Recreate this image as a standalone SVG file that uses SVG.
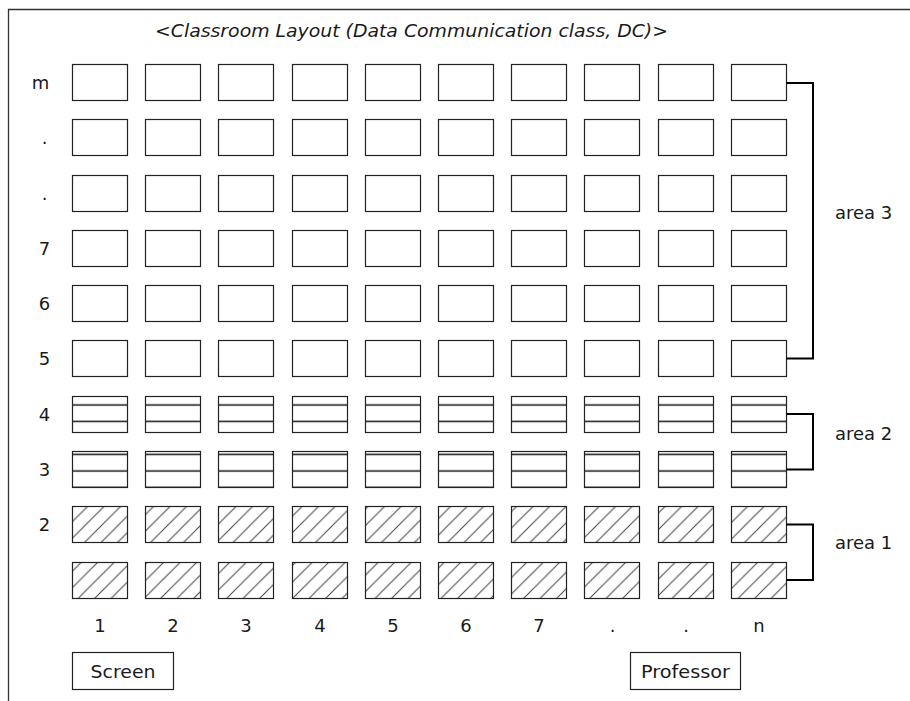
<svg xmlns="http://www.w3.org/2000/svg" width="910" height="701" viewBox="0 0 910 701">
<style>
text{font-family:"DejaVu Sans","Liberation Sans",sans-serif;font-size:18px;fill:#1a1a1a}
.t{font-size:17px;font-style:italic}
.m{text-anchor:middle}
.d{stroke:#222;stroke-width:1.2}
.a3{fill:#fff}
.a2{fill:url(#hz)}
.a1{fill:url(#dg)}
.br{fill:none;stroke:#000;stroke-width:2}
.bx{fill:#fff;stroke:#222;stroke-width:1.2}
</style>
<defs>
<pattern id="hz" patternUnits="userSpaceOnUse" width="20" height="16.5">
<rect width="20" height="16.5" fill="#fff"/>
<line x1="0" y1="9" x2="20" y2="9" stroke="#222" stroke-width="1.6"/>
</pattern>
<pattern id="dg" patternUnits="userSpaceOnUse" width="16.5" height="16.5">
<rect width="16.5" height="16.5" fill="#fff"/>
<path d="M0,16.5 L16.5,0 M-2,2 L2,-2 M14.5,18.5 L18.5,14.5" stroke="#444" stroke-width="1"/>
</pattern>
<symbol id="desk3" overflow="visible"><rect x="0" y="0" width="55" height="36" class="d a3"/></symbol>
</defs>
<rect width="910" height="701" fill="#fff"/>
<path d="M8.5,701 V9.5 H910" fill="none" stroke="#333" stroke-width="1.3"/>
<text class="t" x="155" y="37" textLength="513" lengthAdjust="spacingAndGlyphs">&lt;Classroom Layout (Data Communication class, DC)&gt;</text>

<g id="row-labels">
<text class="m" x="40.5" y="88.5">m</text>
<text class="m" x="44.5" y="143.5">.</text>
<text class="m" x="44.5" y="199.5">.</text>
<text class="m" x="44.5" y="254.5">7</text>
<text class="m" x="44.5" y="309.5">6</text>
<text class="m" x="44.5" y="364.5">5</text>
<text class="m" x="44.5" y="420.5">4</text>
<text class="m" x="44.5" y="475.5">3</text>
<text class="m" x="44.5" y="530.5">2</text>
</g>

<g id="area3">
<g id="row-m">
<rect x="72.5" y="64.5" width="55" height="36" class="d a3"/><rect x="145.5" y="64.5" width="55" height="36" class="d a3"/><rect x="218.5" y="64.5" width="55" height="36" class="d a3"/><rect x="292.5" y="64.5" width="55" height="36" class="d a3"/><rect x="365.5" y="64.5" width="55" height="36" class="d a3"/><rect x="438.5" y="64.5" width="55" height="36" class="d a3"/><rect x="511.5" y="64.5" width="55" height="36" class="d a3"/><rect x="584.5" y="64.5" width="55" height="36" class="d a3"/><rect x="658.5" y="64.5" width="55" height="36" class="d a3"/><rect x="731.5" y="64.5" width="55" height="36" class="d a3"/>
</g>
<g id="row-dot1">
<rect x="72.5" y="119.5" width="55" height="36" class="d a3"/><rect x="145.5" y="119.5" width="55" height="36" class="d a3"/><rect x="218.5" y="119.5" width="55" height="36" class="d a3"/><rect x="292.5" y="119.5" width="55" height="36" class="d a3"/><rect x="365.5" y="119.5" width="55" height="36" class="d a3"/><rect x="438.5" y="119.5" width="55" height="36" class="d a3"/><rect x="511.5" y="119.5" width="55" height="36" class="d a3"/><rect x="584.5" y="119.5" width="55" height="36" class="d a3"/><rect x="658.5" y="119.5" width="55" height="36" class="d a3"/><rect x="731.5" y="119.5" width="55" height="36" class="d a3"/>
</g>
<g id="row-dot2">
<rect x="72.5" y="175.5" width="55" height="36" class="d a3"/><rect x="145.5" y="175.5" width="55" height="36" class="d a3"/><rect x="218.5" y="175.5" width="55" height="36" class="d a3"/><rect x="292.5" y="175.5" width="55" height="36" class="d a3"/><rect x="365.5" y="175.5" width="55" height="36" class="d a3"/><rect x="438.5" y="175.5" width="55" height="36" class="d a3"/><rect x="511.5" y="175.5" width="55" height="36" class="d a3"/><rect x="584.5" y="175.5" width="55" height="36" class="d a3"/><rect x="658.5" y="175.5" width="55" height="36" class="d a3"/><rect x="731.5" y="175.5" width="55" height="36" class="d a3"/>
</g>
<g id="row-7">
<rect x="72.5" y="230.5" width="55" height="36" class="d a3"/><rect x="145.5" y="230.5" width="55" height="36" class="d a3"/><rect x="218.5" y="230.5" width="55" height="36" class="d a3"/><rect x="292.5" y="230.5" width="55" height="36" class="d a3"/><rect x="365.5" y="230.5" width="55" height="36" class="d a3"/><rect x="438.5" y="230.5" width="55" height="36" class="d a3"/><rect x="511.5" y="230.5" width="55" height="36" class="d a3"/><rect x="584.5" y="230.5" width="55" height="36" class="d a3"/><rect x="658.5" y="230.5" width="55" height="36" class="d a3"/><rect x="731.5" y="230.5" width="55" height="36" class="d a3"/>
</g>
<g id="row-6">
<rect x="72.5" y="285.5" width="55" height="36" class="d a3"/><rect x="145.5" y="285.5" width="55" height="36" class="d a3"/><rect x="218.5" y="285.5" width="55" height="36" class="d a3"/><rect x="292.5" y="285.5" width="55" height="36" class="d a3"/><rect x="365.5" y="285.5" width="55" height="36" class="d a3"/><rect x="438.5" y="285.5" width="55" height="36" class="d a3"/><rect x="511.5" y="285.5" width="55" height="36" class="d a3"/><rect x="584.5" y="285.5" width="55" height="36" class="d a3"/><rect x="658.5" y="285.5" width="55" height="36" class="d a3"/><rect x="731.5" y="285.5" width="55" height="36" class="d a3"/>
</g>
<g id="row-5">
<rect x="72.5" y="340.5" width="55" height="36" class="d a3"/><rect x="145.5" y="340.5" width="55" height="36" class="d a3"/><rect x="218.5" y="340.5" width="55" height="36" class="d a3"/><rect x="292.5" y="340.5" width="55" height="36" class="d a3"/><rect x="365.5" y="340.5" width="55" height="36" class="d a3"/><rect x="438.5" y="340.5" width="55" height="36" class="d a3"/><rect x="511.5" y="340.5" width="55" height="36" class="d a3"/><rect x="584.5" y="340.5" width="55" height="36" class="d a3"/><rect x="658.5" y="340.5" width="55" height="36" class="d a3"/><rect x="731.5" y="340.5" width="55" height="36" class="d a3"/>
</g>
</g>

<g id="area2">
<g id="row-4">
<rect x="72.5" y="396.5" width="55" height="36" class="d a2"/><rect x="145.5" y="396.5" width="55" height="36" class="d a2"/><rect x="218.5" y="396.5" width="55" height="36" class="d a2"/><rect x="292.5" y="396.5" width="55" height="36" class="d a2"/><rect x="365.5" y="396.5" width="55" height="36" class="d a2"/><rect x="438.5" y="396.5" width="55" height="36" class="d a2"/><rect x="511.5" y="396.5" width="55" height="36" class="d a2"/><rect x="584.5" y="396.5" width="55" height="36" class="d a2"/><rect x="658.5" y="396.5" width="55" height="36" class="d a2"/><rect x="731.5" y="396.5" width="55" height="36" class="d a2"/>
</g>
<g id="row-3">
<rect x="72.5" y="451.5" width="55" height="36" class="d a2"/><rect x="145.5" y="451.5" width="55" height="36" class="d a2"/><rect x="218.5" y="451.5" width="55" height="36" class="d a2"/><rect x="292.5" y="451.5" width="55" height="36" class="d a2"/><rect x="365.5" y="451.5" width="55" height="36" class="d a2"/><rect x="438.5" y="451.5" width="55" height="36" class="d a2"/><rect x="511.5" y="451.5" width="55" height="36" class="d a2"/><rect x="584.5" y="451.5" width="55" height="36" class="d a2"/><rect x="658.5" y="451.5" width="55" height="36" class="d a2"/><rect x="731.5" y="451.5" width="55" height="36" class="d a2"/>
</g>
</g>

<g id="area1">
<g id="row-2">
<rect x="72.5" y="506.5" width="55" height="36" class="d a1"/><rect x="145.5" y="506.5" width="55" height="36" class="d a1"/><rect x="218.5" y="506.5" width="55" height="36" class="d a1"/><rect x="292.5" y="506.5" width="55" height="36" class="d a1"/><rect x="365.5" y="506.5" width="55" height="36" class="d a1"/><rect x="438.5" y="506.5" width="55" height="36" class="d a1"/><rect x="511.5" y="506.5" width="55" height="36" class="d a1"/><rect x="584.5" y="506.5" width="55" height="36" class="d a1"/><rect x="658.5" y="506.5" width="55" height="36" class="d a1"/><rect x="731.5" y="506.5" width="55" height="36" class="d a1"/>
</g>
<g id="row-1">
<rect x="72.5" y="562.5" width="55" height="36" class="d a1"/><rect x="145.5" y="562.5" width="55" height="36" class="d a1"/><rect x="218.5" y="562.5" width="55" height="36" class="d a1"/><rect x="292.5" y="562.5" width="55" height="36" class="d a1"/><rect x="365.5" y="562.5" width="55" height="36" class="d a1"/><rect x="438.5" y="562.5" width="55" height="36" class="d a1"/><rect x="511.5" y="562.5" width="55" height="36" class="d a1"/><rect x="584.5" y="562.5" width="55" height="36" class="d a1"/><rect x="658.5" y="562.5" width="55" height="36" class="d a1"/><rect x="731.5" y="562.5" width="55" height="36" class="d a1"/>
</g>
</g>

<g id="connectors">
<path class="br" d="M786.5,83 H813 V358.5 H786.5"/>
<path class="br" d="M786.5,414 H813 V469.5 H786.5"/>
<path class="br" d="M786.5,524.5 H813 V580 H786.5"/>
</g>

<g id="area-labels">
<text x="835" y="219">area 3</text>
<text x="835" y="439.5">area 2</text>
<text x="835" y="548.5">area 1</text>
</g>

<g id="col-labels">
<text class="m" x="100" y="631.5">1</text>
<text class="m" x="173" y="631.5">2</text>
<text class="m" x="246" y="631.5">3</text>
<text class="m" x="320" y="631.5">4</text>
<text class="m" x="393" y="631.5">5</text>
<text class="m" x="466" y="631.5">6</text>
<text class="m" x="539" y="631.5">7</text>
<text class="m" x="612.5" y="631.5">.</text>
<text class="m" x="686" y="631.5">.</text>
<text class="m" x="759" y="631.5">n</text>
</g>

<g id="screen">
<rect class="bx" x="72.5" y="652.5" width="101" height="37"/>
<text class="m" x="123" y="677.5" textLength="65" lengthAdjust="spacingAndGlyphs">Screen</text>
</g>
<g id="professor">
<rect class="bx" x="630.5" y="652.5" width="110" height="37"/>
<text class="m" x="685.5" y="677.5" textLength="89" lengthAdjust="spacingAndGlyphs">Professor</text>
</g>
</svg>
